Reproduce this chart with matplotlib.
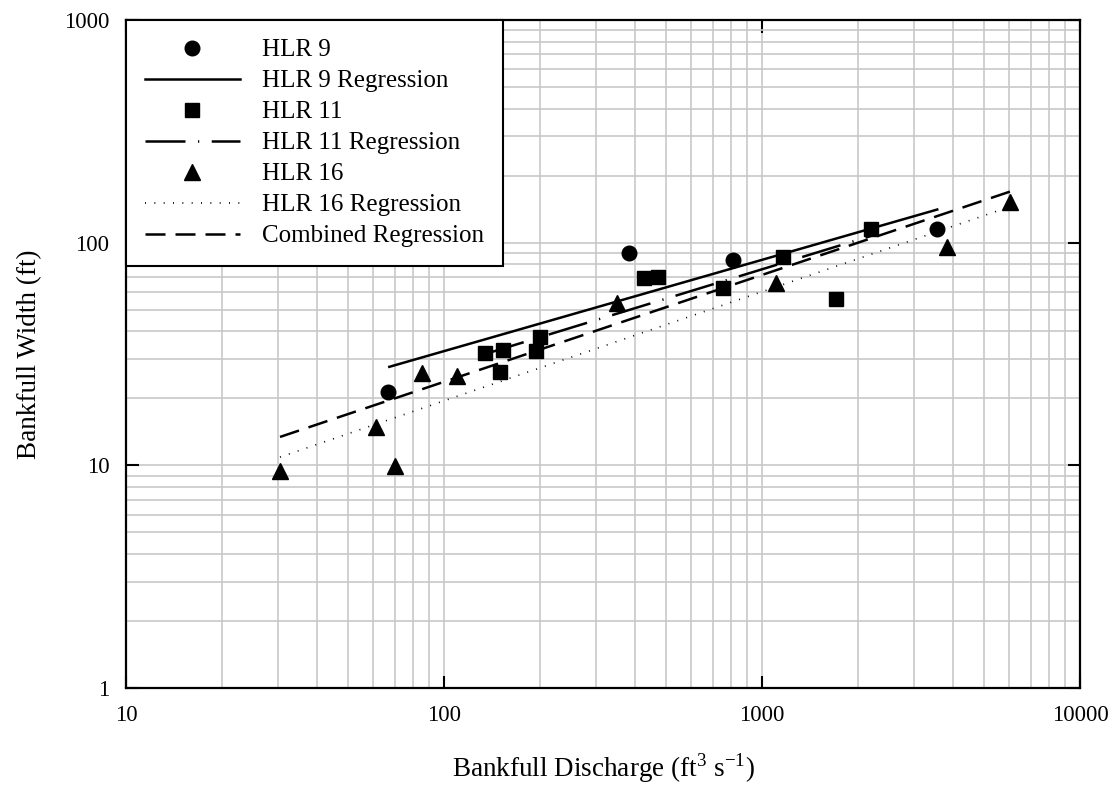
import matplotlib.pyplot as plt
from matplotlib.ticker import LogLocator, FixedLocator, NullFormatter

plt.rcParams['font.family'] = ['Liberation Serif', 'DejaVu Serif']
plt.rcParams['mathtext.fontset'] = 'custom'
plt.rcParams['mathtext.rm'] = 'Liberation Serif'

# data
hlr9_q = [66.5, 382, 813, 3556]
hlr9_w = [21.4, 89.5, 83.5, 115]

hlr11_q = [135, 150, 153, 194, 200, 427, 472, 752, 1161, 1709, 2201]
hlr11_w = [31.8, 26.2, 33.0, 32.7, 37.6, 69.2, 69.8, 62.8, 86.5, 55.9, 115]

hlr16_q = [30.5, 61, 70.2, 85.1, 110, 349, 1104, 3810, 6030]
hlr16_w = [9.46, 14.8, 9.95, 25.9, 25.2, 53.5, 65.6, 95.9, 153]

# regression W = a * Q^b, with Q range
reg_names = ["HLR 9 Regression", "HLR 11 Regression", "HLR 16 Regression", "Combined Regression"]
reg_a = [4.93, 3.71, 2.04, 2.60]
reg_b = [0.41, 0.437, 0.49, 0.48]
reg_qmin = [67.3, 135, 30.5, 30.5]
reg_qmax = [3556, 2201, 6030, 6030]

fig = plt.figure(figsize=(11.2, 7.97), dpi=100)
ax = fig.add_axes([0.1125, 0.1368, 0.8518, 0.8381])
ax.set_xscale('log')
ax.set_yscale('log')
ax.set_xlim(10, 10000)
ax.set_ylim(1, 1000)

ax.grid(True, which='both', color='#c8c8c8', lw=1.2, zorder=0)
ax.set_axisbelow(True)

styles = ['-', (0, (16, 5, 0.5, 5)), (0, (0.6, 5)), (0, (8, 4))]
widths = [1.8, 1.8, 1.2, 1.8]

h_pts9, = ax.plot(hlr9_q, hlr9_w, 'o', color='black', ms=10.5, ls='none', label='HLR 9', zorder=3)
h_pts11, = ax.plot(hlr11_q, hlr11_w, 's', color='black', ms=10.5, ls='none', label='HLR 11', zorder=3)
h_pts16, = ax.plot(hlr16_q, hlr16_w, '^', color='black', ms=12, ls='none', label='HLR 16', zorder=3)

reg_handles = []
for name, a, b, q0, q1, st, w in zip(reg_names, reg_a, reg_b, reg_qmin, reg_qmax, styles, widths):
    h, = ax.plot([q0, q1], [a * q0 ** b, a * q1 ** b], color='black', ls=st, lw=w, label=name, zorder=2)
    reg_handles.append(h)

handles = [h_pts9, reg_handles[0], h_pts11, reg_handles[1], h_pts16, reg_handles[2], reg_handles[3]]
leg = ax.legend(handles=handles, loc='upper left', fontsize=18, frameon=True, fancybox=False,
                edgecolor='black', framealpha=1, borderaxespad=0, handlelength=3.8,
                handletextpad=0.9, labelspacing=0.34, borderpad=0.75)
leg.get_frame().set_linewidth(1.5)

ax.xaxis.set_major_locator(FixedLocator([10, 100, 1000, 10000]))
ax.yaxis.set_major_locator(FixedLocator([1, 10, 100, 1000]))
ax.xaxis.set_minor_locator(LogLocator(base=10, subs=range(2, 10)))
ax.yaxis.set_minor_locator(LogLocator(base=10, subs=range(2, 10)))
ax.xaxis.set_minor_formatter(NullFormatter())
ax.yaxis.set_minor_formatter(NullFormatter())
ax.set_xticklabels(['10', '100', '1000', '10000'])
ax.set_yticklabels(['1', '10', '100', '1000'])
ax.tick_params(which='major', direction='in', length=9, width=1.5, top=True, right=True,
               labelsize=16.5, pad=12)
ax.tick_params(which='minor', length=0)
for s in ax.spines.values():
    s.set_linewidth(1.6)

ax.set_xlabel('Bankfull Discharge (ft$^3$ s$^{-1}$)', fontsize=19.5, labelpad=18)
ax.set_ylabel('Bankfull Width (ft)', fontsize=19.5, labelpad=16)

fig.savefig('out.png', dpi=100)
